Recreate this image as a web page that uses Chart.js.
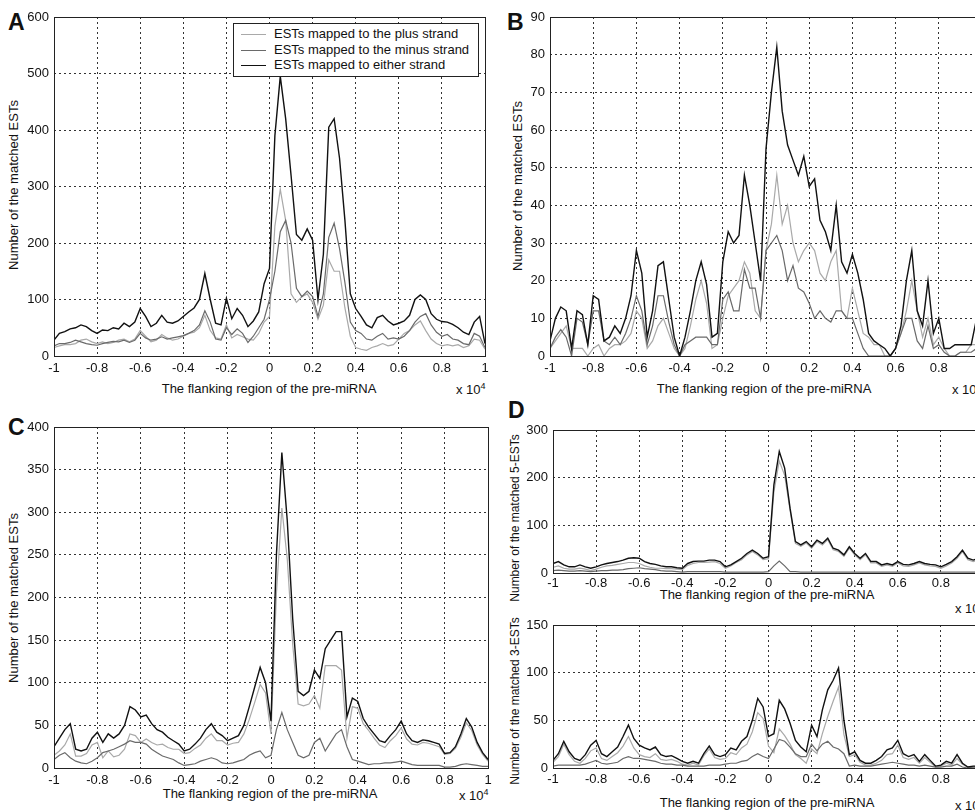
<!DOCTYPE html>
<html>
<head>
<meta charset="utf-8">
<script src="https://cdn.jsdelivr.net/npm/chart.js@4.4.1/dist/chart.umd.min.js"></script>
<style>
  body { margin: 0; width: 975px; height: 812px; overflow: hidden; background: #fff; position: relative;
         font-family: "Liberation Sans", Arial, sans-serif; color: #111; }
  canvas { position: absolute; }
  .t { position: absolute; font-size: 13px; white-space: nowrap; transform: translate(-50%, -50%); }
  .yt { position: absolute; font-size: 13px; white-space: nowrap; transform: translate(-50%, -50%) rotate(-90deg); }
  .yt.small { font-size: 12px; }
  .scale { position: absolute; font-size: 13px; white-space: nowrap; transform: translateY(-50%); }
  .scale sup { font-size: 9px; }
  .letter { position: absolute; font-size: 23px; line-height: 23px; font-weight: bold; }
  #legendA { position: absolute; left: 233px; top: 23px; width: 244px; height: 52px; border: 1px solid #222;
             background: #fff; font-size: 13px; }
  .lg { position: absolute; left: 7px; height: 16px; line-height: 16px; white-space: nowrap; }
  .lg i { display: inline-block; width: 25px; border-top: 1.5px solid; vertical-align: middle; margin-right: 8px; }
</style>
</head>
<body>

<div class="letter" style="left:8px;top:11px">A</div>
<div class="letter" style="left:507px;top:11px">B</div>
<div class="letter" style="left:8px;top:416px">C</div>
<div class="letter" style="left:508px;top:399px">D</div>

<div class="yt" style="left:13px;top:185px">Number of the matched ESTs</div>
<div class="yt" style="left:517px;top:186px">Number of the matched ESTs</div>
<div class="yt" style="left:13px;top:598px">Number of the matched ESTs</div>
<div class="yt small" style="left:515px;top:518px">Number of the matched 5-ESTs</div>
<div class="yt small" style="left:515px;top:701px">Number of the matched 3-ESTs</div>

<div class="t" style="left:269px;top:388px">The flanking region of the pre-miRNA</div>
<div class="t" style="left:764px;top:388px">The flanking region of the pre-miRNA</div>
<div class="t" style="left:270px;top:793px">The flanking region of the pre-miRNA</div>
<div class="t" style="left:767px;top:594px">The flanking region of the pre-miRNA</div>
<div class="t" style="left:767px;top:802px">The flanking region of the pre-miRNA</div>

<div class="scale" style="left:456px;top:389px">x 10<sup>4</sup></div>
<div class="scale" style="left:952px;top:389px">x 10<sup>4</sup></div>
<div class="scale" style="left:459px;top:795px">x 10<sup>4</sup></div>
<div class="scale" style="left:955px;top:608px">x 10<sup>4</sup></div>
<div class="scale" style="left:955px;top:805px">x 10<sup>4</sup></div>

<script>
// position in the flanking region, in units of 10^4 nt
const flankPos = [
  -1, -0.975, -0.95, -0.925, -0.9, -0.875, -0.85, -0.825, -0.8, -0.775,
  -0.75, -0.725, -0.7, -0.675, -0.65, -0.625, -0.6, -0.575, -0.55, -0.525,
  -0.5, -0.475, -0.45, -0.425, -0.4, -0.375, -0.35, -0.325, -0.3, -0.275,
  -0.25, -0.225, -0.2, -0.175, -0.15, -0.125, -0.1, -0.075, -0.05, -0.025,
  0, 0.025, 0.05, 0.075, 0.1, 0.125, 0.15, 0.175, 0.2, 0.225,
  0.25, 0.275, 0.3, 0.325, 0.35, 0.375, 0.4, 0.425, 0.45, 0.475,
  0.5, 0.525, 0.55, 0.575, 0.6, 0.625, 0.65, 0.675, 0.7, 0.725,
  0.75, 0.775, 0.8, 0.825, 0.85, 0.875, 0.9, 0.925, 0.95, 0.975,
  1
];

const seriesNames = ['ESTs mapped to the plus strand', 'ESTs mapped to the minus strand', 'ESTs mapped to either strand'];

// panel A
const aPlus = [15,18,20,20,22,28,30,25,22,25,22, 24,28,30,25,30,45,35,25,28,38, 32,28,30,35,40,42,50,72,45,32,
  30,55,32,38,34,30,28,40,60,70, 230,295,240,110,95,105,110,95,65,90, 170,150,150,85,35,15,12,10,15,18,
  22,18,20,30,40,45,55,62,45,30, 22,18,20,18,20,15,18,30,28,12];
const aMinus = [18,22,22,24,28,25,22,20,19,22,24, 26,25,28,24,28,40,32,28,30,34, 30,32,34,36,40,45,55,80,60,30,
  28,50,38,48,40,24,35,50,65,100, 150,220,240,200,120,105,115,105,70,110, 210,235,190,130,60,45,40,30,28,35,
  40,30,32,30,35,45,60,70,75,55, 42,35,38,30,28,22,20,40,35,15];
const aEither = [28,40,43,48,50,55,52,45,40,46,45, 50,48,58,52,60,84,70,52,58,72, 60,58,62,70,78,85,100,146,100,58,
  55,102,66,84,72,52,62,78,128,155, 390,495,420,320,215,205,225,205,100,180, 405,420,350,240,110,84,70,55,50,68,
  72,62,55,58,62,72,100,108,100,75, 65,61,60,56,50,42,38,60,70,22];

// panel B
const bPlus = [2,4,6,8,2,2,2,0,2,3,0, 2,3,3,4,6,12,10,2,4,8, 10,6,2,0,2,8,15,20,14,2,
  3,10,16,18,20,25,22,12,10,28, 35,48,35,40,30,25,28,30,28,22, 20,25,28,12,10,18,12,6,5,3,
  3,0,0,2,6,12,20,12,5,10, 3,5,2,0,0,1,1,3,3,3];
const bMinus = [2,5,7,5,0,10,9,3,12,12,4, 3,5,3,6,10,16,12,3,8,16, 16,9,3,0,3,4,5,5,5,3,
  3,15,17,12,12,23,18,18,10,28, 30,32,28,20,24,18,17,14,10,12, 10,9,12,12,10,10,6,2,0,0,
  0,0,0,2,6,10,10,4,2,8, 2,3,1,0,0,1,1,1,2,2];
const bEither = [4,10,13,12,2,12,11,3,16,15,4, 5,8,6,10,16,28,22,5,12,24, 25,15,5,0,5,12,20,25,19,5,
  6,25,33,30,32,48,40,30,20,55, 70,82,65,56,52,48,53,45,47,36, 33,28,40,25,22,27,22,15,6,4,
  3,2,0,2,8,20,28,12,8,20, 6,10,2,2,3,3,3,3,10,10];

// panel C
const cPlus = [15,20,27,40,14,14,17,27,30,12,20, 13,15,22,40,38,30,34,30,27,28, 24,22,22,17,18,23,27,35,40,32,
  32,27,29,30,40,57,77,98,88,40, 205,305,245,145,75,73,75,85,70,120, 120,120,115,35,72,70,52,44,35,27,
  24,32,38,47,34,28,27,30,29,27, 25,16,17,23,36,53,44,27,16,8];
const cMinus = [10,15,18,12,8,6,5,8,12,18,20, 22,25,28,32,30,30,28,22,18,14, 12,10,6,3,4,5,8,10,12,10,
  6,5,6,8,10,15,18,20,12,15, 45,65,45,30,15,12,15,30,35,20, 30,40,45,25,10,8,6,4,5,5,
  6,6,7,8,6,4,3,3,3,3, 3,1,1,2,4,5,4,3,2,2];
const cEither = [25,35,45,52,22,20,22,35,42,30,40, 35,40,50,72,68,60,62,52,45,42, 36,32,28,20,22,28,35,45,52,42,
  38,32,35,38,50,72,95,118,100,55, 250,370,290,175,90,85,90,115,105,140, 150,160,160,60,82,78,58,48,40,32,
  30,38,45,55,40,32,30,33,32,30, 28,17,18,25,40,58,48,30,18,10];

// panel D, 5'-ESTs
const d5Plus = [12,15,10,8,8,10,8,5,8,12,15, 16,18,20,22,22,20,15,12,10,10, 9,9,8,7,16,20,22,22,23,24,
  20,10,15,22,28,38,45,38,28,30, 170,235,205,132,62,56,63,52,66,59, 70,49,45,35,52,38,28,38,21,21,
  14,17,14,21,15,14,17,21,17,15, 14,10,15,21,31,45,28,24,28,27];
const d5Minus = [5,6,5,4,4,5,4,3,4,5,5, 6,6,7,9,10,11,9,8,7,5, 4,4,3,2,3,3,3,3,3,3,
  3,2,2,2,2,2,2,2,2,3, 15,25,15,3,3,2,2,2,2,2, 2,2,2,2,2,2,2,2,2,2,
  2,2,2,2,2,2,2,2,2,2, 2,2,2,2,2,2,2,2,2,2];
const d5Either = [20,24,17,13,13,17,13,10,13,17,20, 22,24,27,31,32,31,24,20,18,15, 13,13,11,10,20,24,25,25,27,27,
  24,13,17,24,31,41,48,41,31,34, 185,255,220,136,66,59,66,55,69,62, 73,52,48,38,55,41,31,41,24,24,
  17,20,17,24,18,17,20,24,20,18, 17,13,18,24,34,48,31,27,31,30];

// panel D, 3'-ESTs
const d3Plus = [6,12,25,14,7,5,10,18,21,10,8, 12,16,23,33,21,14,12,11,15,9, 8,9,7,4,3,5,3,13,20,11,
  9,10,16,14,21,25,38,58,52,23, 16,41,34,25,14,10,5,20,15,36, 54,70,85,35,12,14,6,3,3,5,
  8,14,15,24,11,9,11,5,11,6, 1,2,5,3,10,4,1,1,1,1];
const d3Minus = [2,3,3,3,3,3,4,6,8,5,4, 5,6,10,12,10,10,9,8,7,5, 4,4,3,3,2,2,2,2,3,3,
  3,4,5,5,7,8,12,15,12,10, 20,30,28,22,15,12,12,25,18,25, 28,22,20,15,2,3,2,2,2,3,
  4,5,6,5,4,3,3,2,3,2, 1,1,2,2,4,1,0,1,1,1];
const d3Either = [8,15,28,17,10,8,14,24,29,15,12, 17,22,33,45,31,24,21,19,22,14, 12,13,10,7,5,7,5,15,23,14,
  12,14,21,19,28,33,50,73,64,33, 36,71,62,47,29,22,17,45,33,61, 82,92,105,50,14,17,8,5,5,8,
  12,19,21,29,15,12,14,7,14,8, 2,3,7,5,14,5,1,2,2,2];

const lineColors = ['#a9a9a9', '#6a6a6a', '#111111'];
const FONT = '"Liberation Sans", Arial, sans-serif';
const YW = 36, XH = 20, PT = 10, PR = 12;

const framePlugin = {
  id: 'frame',
  afterDatasetsDraw(chart) {
    const { ctx, chartArea: a } = chart;
    ctx.save();
    ctx.strokeStyle = '#222';
    ctx.lineWidth = 1;
    ctx.strokeRect(a.left + 0.5, a.top + 0.5, a.right - a.left, a.bottom - a.top);
    ctx.restore();
  }
};

// plot = [left, top, right, bottom] of the axes box on the page
function makePanel(plot, yMax, yStep, series, xPad) {
  const [l, t, r, b] = plot;
  const canvas = document.createElement('canvas');
  canvas.width = (r - l) + YW + PR;
  canvas.height = (b - t) + PT + XH;
  canvas.style.left = (l - YW) + 'px';
  canvas.style.top = (t - PT) + 'px';
  document.body.appendChild(canvas);

  const gridOpts = { color: '#333', lineWidth: 1, drawTicks: false, borderDash: [2, 3] };
  const datasets = series.map((ys, k) => ({
    label: seriesNames[k],
    data: ys.map((y, i) => ({ x: flankPos[i], y })),
    borderColor: lineColors[k],
    borderWidth: k === 2 ? 1.4 : 1.2,
    pointRadius: 0,
    tension: 0,
    fill: false,
    order: 3 - k
  }));

  new Chart(canvas.getContext('2d'), {
    type: 'line',
    data: { datasets },
    options: {
      responsive: false,
      animation: false,
      events: [],
      layout: { padding: { top: PT, right: PR, left: 0, bottom: 0 } },
      plugins: { legend: { display: false }, tooltip: { enabled: false } },
      scales: {
        x: {
          type: 'linear', min: -1, max: 1,
          afterFit(s) { s.height = XH; s.paddingLeft = 0; s.paddingRight = 0; },
          grid: gridOpts,
          border: { display: false, dash: [2, 3] },
          ticks: {
            stepSize: 0.2, padding: xPad, color: '#111', maxRotation: 0, autoSkip: false,
            font: { family: FONT, size: 13 },
            callback: v => String(Math.round(v * 10) / 10)
          }
        },
        y: {
          min: 0, max: yMax,
          afterFit(s) { s.width = YW; s.paddingTop = 0; s.paddingBottom = 0; },
          grid: gridOpts,
          border: { display: false, dash: [2, 3] },
          ticks: {
            stepSize: yStep, padding: 5, color: '#111',
            font: { family: FONT, size: 13 },
            callback: v => String(Math.round(v))
          }
        }
      }
    },
    plugins: [framePlugin]
  });
}

makePanel([54, 17, 485, 356], 600, 100, [aPlus, aMinus, aEither], 5);
makePanel([550, 17, 982, 356], 90, 10, [bPlus, bMinus, bEither], 5);
makePanel([54, 427, 488, 768], 400, 50, [cPlus, cMinus, cEither], 5);
makePanel([553, 430, 984, 573], 300, 100, [d5Plus, d5Minus, d5Either], 3);
makePanel([553, 625, 984, 768], 150, 50, [d3Plus, d3Minus, d3Either], 4);
</script>

<div id="legendA">
  <div class="lg" style="top:2px"><i style="border-color:#a9a9a9"></i>ESTs mapped to the plus strand</div>
  <div class="lg" style="top:18px"><i style="border-color:#6a6a6a"></i>ESTs mapped to the minus strand</div>
  <div class="lg" style="top:33px"><i style="border-color:#111"></i>ESTs mapped to either strand</div>
</div>

</body>
</html>
